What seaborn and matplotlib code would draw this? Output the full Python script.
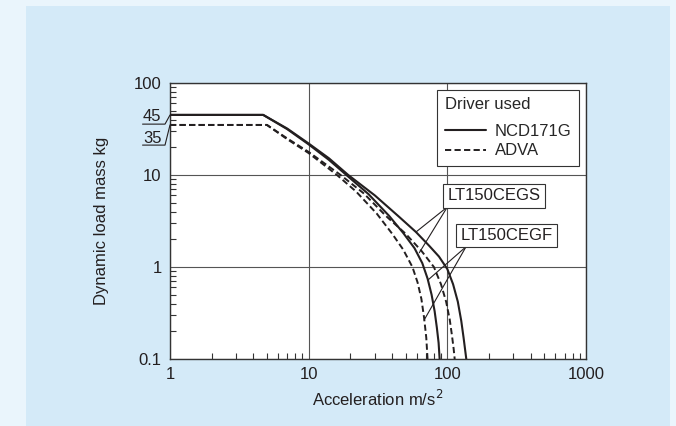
import matplotlib
matplotlib.use("Agg")
import matplotlib.pyplot as plt
import seaborn as sns
import pandas as pd
from matplotlib.lines import Line2D
from matplotlib.patches import Rectangle

# ---------------- data ----------------
# NCD171G driver (solid)
acc_ncd_inner = [1, 4.7, 7, 10, 14, 18.7, 27, 38, 48, 58, 66, 72, 77, 81, 84, 86.5, 88]
mass_ncd_inner = [45, 45, 31.5, 21.5, 14.6, 10, 6.2, 3.6, 2.35, 1.6, 1.1, 0.75, 0.5, 0.33, 0.22, 0.15, 0.1]
acc_ncd_outer = [1, 4.7, 7, 10, 14, 19.3, 30, 45, 59.4, 74, 87, 100, 110, 119, 126, 131, 134, 137]
mass_ncd_outer = [45, 45, 32, 22, 15.2, 10, 6.0, 3.5, 2.4, 1.7, 1.3, 0.95, 0.65, 0.42, 0.26, 0.17, 0.13, 0.1]
# ADVA driver (dashed)
acc_adva_inner = [1, 5, 7, 10, 16, 22, 31, 40, 48, 56, 61, 65, 68, 70.5, 72]
mass_adva_inner = [35, 35, 24.5, 17.3, 10, 6.6, 3.8, 2.3, 1.55, 1.0, 0.68, 0.45, 0.28, 0.17, 0.1]
acc_adva_outer = [1, 5, 7, 10, 17, 25, 36, 50, 65, 80, 90, 98, 104, 108, 111, 113]
mass_adva_outer = [35, 35, 25, 17.8, 10, 6.3, 3.6, 2.3, 1.5, 1.0, 0.65, 0.42, 0.27, 0.18, 0.13, 0.1]

x_ticks = [1, 10, 100, 1000]
x_tick_labels = ["1", "10", "100", "1000"]
y_ticks = [0.1, 1, 10, 100]
y_tick_labels = ["0.1", "1", "10", "100"]
legend_title = "Driver used"
driver_names = ["NCD171G", "ADVA"]
model_names = ["LT150CEGS", "LT150CEGF"]

# ---------------- style ----------------
sns.set_style("white")
plt.rcParams["font.family"] = ["Liberation Sans", "DejaVu Sans"]
INK = "#231f20"
PANEL = "#d4eaf8"
OUTER = "#eaf5fc"
FS = 12
DASH = (0, (3.2, 1.7))

fig = plt.figure(figsize=(6.76, 4.26), dpi=100)
fig.patch.set_facecolor(OUTER)
fig.patches.append(Rectangle((26 / 676, 0), (670 - 26) / 676, 1 - 6 / 426,
                             transform=fig.transFigure, facecolor=PANEL,
                             edgecolor="none", zorder=-10))
ax = fig.add_axes([170 / 676, 1 - 359 / 426, (586 - 170) / 676, (359 - 83) / 426])
ax.set_zorder(1)
ax.set_facecolor("white")

curves = [
    (acc_ncd_inner, mass_ncd_inner, "-", 1.5),
    (acc_ncd_outer, mass_ncd_outer, "-", 1.5),
    (acc_adva_inner, mass_adva_inner, DASH, 1.4),
    (acc_adva_outer, mass_adva_outer, DASH, 1.4),
]
for xs, ys, ls, lw in curves:
    df = pd.DataFrame({"acc": xs, "mass": ys})
    sns.lineplot(data=df, x="acc", y="mass", ax=ax, color=INK, linestyle=ls,
                 linewidth=lw, sort=False, estimator=None, zorder=3)

ax.set_xscale("log")
ax.set_yscale("log")
ax.set_xlim(1, 1000)
ax.set_ylim(0.1, 100)
ax.set_xticks(x_ticks)
ax.set_xticklabels(x_tick_labels)
ax.set_yticks(y_ticks)
ax.set_yticklabels(y_tick_labels)
ax.grid(True, which="major", color="#555555", linewidth=0.8)
ax.tick_params(which="major", length=0, pad=6, labelsize=FS, colors=INK)
ax.tick_params(which="minor", direction="in", length=4, width=0.8, color="#333333",
               bottom=True, left=True, top=False, right=False)
for s in ax.spines.values():
    s.set_color("#333333")
    s.set_linewidth(1.0)

ax.set_xlabel("Acceleration m/s$^2$", fontsize=FS, color=INK, labelpad=5)
ax.set_ylabel("Dynamic load mass kg", fontsize=FS, color=INK, labelpad=18)

# plateau value labels
for txt, ty, uy, sy in [("45", 0.880, 0.851, 0.884), ("35", 0.800, 0.775, 0.848)]:
    ax.text(-0.043, ty, txt, transform=ax.transAxes, ha="center", va="center",
            fontsize=FS, color=INK)
    ax.plot([-0.066, -0.012, 0.0], [uy, uy, sy], transform=ax.transAxes,
            color=INK, lw=0.8, clip_on=False)

# legend
handles = [Line2D([], [], color=INK, lw=1.5, linestyle="-"),
           Line2D([], [], color=INK, lw=1.4, linestyle=DASH)]
leg = ax.legend(handles, driver_names, title=legend_title, loc="upper right",
                bbox_to_anchor=(0.983, 0.975), borderaxespad=0, fontsize=FS,
                title_fontsize=FS, alignment="left", fancybox=False,
                framealpha=1, edgecolor="#333333", handlelength=2.45,
                labelspacing=0.28, borderpad=0.45, handletextpad=0.54)
leg._legend_box.sep = 0.28 * FS + 4.8
leg.get_frame().set_linewidth(0.8)
leg.set_zorder(5)

# model labels with leader lines
box = dict(boxstyle="square,pad=0.25", facecolor="white", edgecolor="#333333", linewidth=0.8)
ax.text(217, 5.92, model_names[0], ha="center", va="center", fontsize=FS,
        color=INK, bbox=box, zorder=6)
ax.text(267, 2.2, model_names[1], ha="center", va="center", fontsize=FS,
        color=INK, bbox=box, zorder=6)
for start, end in [((100, 4.49), (59.4, 2.40)), ((100, 4.49), (62.8, 1.43)),
                   ((136.4, 1.66), (72.5, 0.722)), ((136.4, 1.66), (68, 0.265))]:
    ax.annotate("", xy=end, xytext=start,
                arrowprops=dict(arrowstyle="-", color=INK, lw=0.8,
                                shrinkA=0, shrinkB=0), zorder=4)

fig.savefig("out.png", dpi=100, facecolor=fig.get_facecolor())
